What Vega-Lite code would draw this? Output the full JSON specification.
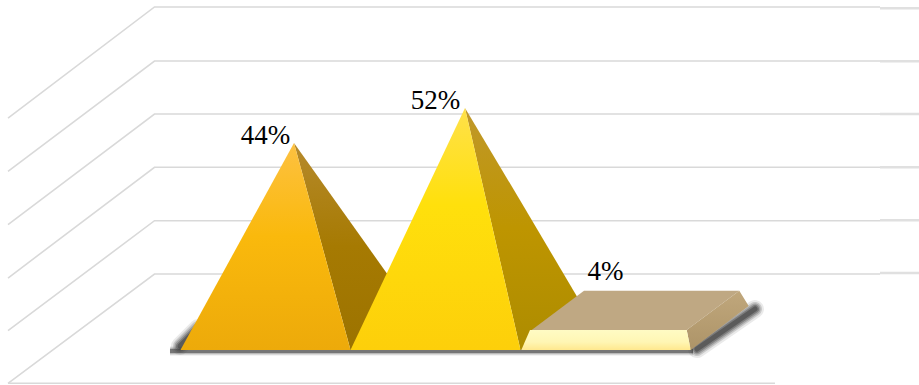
{
  "$schema": "https://vega.github.io/schema/vega-lite/v6.json",
  "width": 919,
  "height": 385,
  "padding": 0,
  "autosize": "none",
  "background": "#ffffff",
  "config": {"view": {"stroke": null}},
  "datasets": {
    "walls": [
      {"level": "l6", "x": -1.0147, "y": 49.71}, {"level": "l6", "x": -0.1529, "y": 75.09}, {"level": "l6", "x": 4.1147, "y": 75.09},
      {"level": "l5", "x": -1.0147, "y": 37.53}, {"level": "l5", "x": -0.1529, "y": 62.74}, {"level": "l5", "x": 4.1147, "y": 62.74},
      {"level": "l4", "x": -1.0147, "y": 25.33}, {"level": "l4", "x": -0.1529, "y": 50.63}, {"level": "l4", "x": 4.1147, "y": 50.63},
      {"level": "l3", "x": -1.0147, "y": 13.14}, {"level": "l3", "x": -0.1529, "y": 38.45}, {"level": "l3", "x": 4.1147, "y": 38.45},
      {"level": "l2", "x": -1.0147, "y": 1.10}, {"level": "l2", "x": -0.1529, "y": 26.24}, {"level": "l2", "x": 4.1147, "y": 26.24},
      {"level": "l1", "x": -1.0147, "y": -10.93}, {"level": "l1", "x": -0.1529, "y": 14.06}, {"level": "l1", "x": 4.1147, "y": 14.06},
      {"level": "floor", "x": -1.0147, "y": -10.93}, {"level": "floor", "x": 3.4971, "y": -10.93}
    ],
    "stubs": [
      {"level": "l6", "x": 4.1147, "y": 74.79}, {"level": "l6", "x": 4.3441, "y": 74.79},
      {"level": "l5", "x": 4.1147, "y": 62.67}, {"level": "l5", "x": 4.3441, "y": 62.67},
      {"level": "l4", "x": 4.1147, "y": 50.63}, {"level": "l4", "x": 4.3441, "y": 50.63},
      {"level": "l3", "x": 4.1147, "y": 38.45}, {"level": "l3", "x": 4.3441, "y": 38.45},
      {"level": "l2", "x": 4.1147, "y": 26.33}, {"level": "l2", "x": 4.3441, "y": 26.33},
      {"level": "l1", "x": 4.1147, "y": 14.29}, {"level": "l1", "x": 4.3441, "y": 14.29}
    ],
    "shadow": [
      {"edge": "left", "x": -0.0029, "y": -2.4}, {"edge": "left", "x": 0.1029, "y": 1.71},
      {"edge": "right", "x": 3.0382, "y": -3.09}, {"edge": "right", "x": 3.3794, "y": 6.06}
    ],
    "baseShadow": [
      {"x": -0.0618, "y": -3.54}, {"x": 3.0147, "y": -3.54}
    ],
    "faces": [
      {"face": "side1", "x": 0.6676, "y": 44, "y2": 44},
      {"face": "side1", "x": 1, "y": 25.9, "y2": -3.31},
      {"face": "side1", "x": 1.35, "y": 6.74, "y2": 6.74},
      {"face": "front1", "x": 0, "y": -3.31, "y2": -3.31},
      {"face": "front1", "x": 0.6676, "y": 44, "y2": -3.31},
      {"face": "front1", "x": 1, "y": -3.31, "y2": -3.31},
      {"face": "side2", "x": 1.6735, "y": 52, "y2": 52},
      {"face": "side2", "x": 2, "y": 30.74, "y2": -3.31},
      {"face": "side2", "x": 2.3618, "y": 6.97, "y2": 6.97},
      {"face": "front2", "x": 1, "y": -3.31, "y2": -3.31},
      {"face": "front2", "x": 1.6735, "y": 52, "y2": -3.31},
      {"face": "front2", "x": 2, "y": -3.31, "y2": -3.31},
      {"face": "slabTop", "x": 2.0659, "y": 1.26, "y2": 1.26},
      {"face": "slabTop", "x": 2.3735, "y": 10.24, "y2": 1.26},
      {"face": "slabTop", "x": 2.9776, "y": 10.24, "y2": 1.26},
      {"face": "slabTop", "x": 3.2871, "y": 10.24, "y2": 10.24},
      {"face": "slabSide", "x": 2.9776, "y": 1.26, "y2": 1.26},
      {"face": "slabSide", "x": 3.0012, "y": 1.94, "y2": -3.31},
      {"face": "slabSide", "x": 3.2871, "y": 10.24, "y2": 5.12},
      {"face": "slabSide", "x": 3.3424, "y": 6.74, "y2": 6.74},
      {"face": "slabFront", "x": 2.0047, "y": -3.31, "y2": -3.31},
      {"face": "slabFront", "x": 2.0559, "y": 1.26, "y2": -3.31},
      {"face": "slabFront", "x": 2.9776, "y": 1.26, "y2": -3.31},
      {"face": "slabFront", "x": 3.0012, "y": -3.31, "y2": -3.31}
    ],
    "labels": [
      {"label": "44%", "value": 44, "x": 0.5},
      {"label": "52%", "value": 52, "x": 1.5},
      {"label": "4%", "value": 4, "x": 2.5}
    ]
  },
  "data": {"name": "faces"},
  "encoding": {
    "x": {"field": "x", "type": "quantitative", "axis": null, "scale": {"domain": [-1.06176, 4.34412], "nice": false, "zero": false}},
    "y": {"field": "y", "type": "quantitative", "axis": null, "scale": {"domain": [-11.314, 76.686], "nice": false, "zero": false}}
  },
  "layer": [
    {
      "data": {"name": "walls"},
      "mark": {"type": "line", "color": "#d9d9d9", "strokeWidth": 1.6},
      "encoding": {"detail": {"field": "level"}}
    },
    {
      "data": {"name": "stubs"},
      "mark": {"type": "line", "color": "#e0e0e0", "strokeWidth": 2.5},
      "encoding": {"detail": {"field": "level"}}
    },
    {
      "data": {"name": "shadow"},
      "mark": {"type": "line", "color": "#333333", "opacity": 0.1, "strokeWidth": 18, "strokeCap": "round", "strokeJoin": "round"},
      "encoding": {"detail": {"field": "edge"}}
    },
    {
      "data": {"name": "shadow"},
      "mark": {"type": "line", "color": "#333333", "opacity": 0.18, "strokeWidth": 14, "strokeCap": "round", "strokeJoin": "round"},
      "encoding": {"detail": {"field": "edge"}}
    },
    {
      "data": {"name": "shadow"},
      "mark": {"type": "line", "color": "#333333", "opacity": 0.25, "strokeWidth": 11, "strokeCap": "round", "strokeJoin": "round"},
      "encoding": {"detail": {"field": "edge"}}
    },
    {
      "data": {"name": "shadow"},
      "mark": {"type": "line", "color": "#333333", "opacity": 0.35, "strokeWidth": 8, "strokeCap": "round", "strokeJoin": "round"},
      "encoding": {"detail": {"field": "edge"}}
    },
    {
      "data": {"name": "shadow"},
      "mark": {"type": "line", "color": "#333333", "opacity": 0.45, "strokeWidth": 5, "strokeCap": "round", "strokeJoin": "round"},
      "encoding": {"detail": {"field": "edge"}}
    },
    {
      "data": {"name": "baseShadow"},
      "mark": {"type": "line", "color": "#333333", "opacity": 0.12, "strokeWidth": 9}
    },
    {
      "data": {"name": "baseShadow"},
      "mark": {"type": "line", "color": "#333333", "opacity": 0.25, "strokeWidth": 6.5}
    },
    {
      "data": {"name": "baseShadow"},
      "mark": {"type": "line", "color": "#333333", "opacity": 0.5, "strokeWidth": 4}
    },
    {
      "transform": [{"filter": "datum.face === 'side1'"}],
      "mark": {"type": "area", "color": {"gradient": "linear", "x1": 0, "y1": 0, "x2": 0, "y2": 1, "stops": [{"offset": 0, "color": "#b68a2c"}, {"offset": 0.5, "color": "#a67a02"}, {"offset": 1, "color": "#9c7300"}]}},
      "encoding": {"y2": {"field": "y2"}}
    },
    {
      "transform": [{"filter": "datum.face === 'front1'"}],
      "mark": {"type": "area", "color": {"gradient": "linear", "x1": 0, "y1": 0, "x2": 0, "y2": 1, "stops": [{"offset": 0, "color": "#fdc141"}, {"offset": 0.45, "color": "#fab90c"}, {"offset": 1, "color": "#edaa0a"}]}},
      "encoding": {"y2": {"field": "y2"}}
    },
    {
      "transform": [{"filter": "datum.face === 'side2'"}],
      "mark": {"type": "area", "color": {"gradient": "linear", "x1": 0, "y1": 0, "x2": 0, "y2": 1, "stops": [{"offset": 0, "color": "#c0982a"}, {"offset": 0.5, "color": "#be9500"}, {"offset": 1, "color": "#ad8c00"}]}},
      "encoding": {"y2": {"field": "y2"}}
    },
    {
      "transform": [{"filter": "datum.face === 'front2'"}],
      "mark": {"type": "area", "color": {"gradient": "linear", "x1": 0, "y1": 0, "x2": 0, "y2": 1, "stops": [{"offset": 0, "color": "#ffe14a"}, {"offset": 0.4, "color": "#ffe00c"}, {"offset": 1, "color": "#fdcf0a"}]}},
      "encoding": {"y2": {"field": "y2"}}
    },
    {
      "transform": [{"filter": "datum.face === 'slabTop'"}],
      "mark": {"type": "area", "color": "#bfa883"},
      "encoding": {"y2": {"field": "y2"}}
    },
    {
      "transform": [{"filter": "datum.face === 'slabSide'"}],
      "mark": {"type": "area", "color": {"gradient": "linear", "x1": 0, "y1": 0, "x2": 0, "y2": 1, "stops": [{"offset": 0, "color": "#c0a77c"}, {"offset": 1, "color": "#ad9468"}]}},
      "encoding": {"y2": {"field": "y2"}}
    },
    {
      "transform": [{"filter": "datum.face === 'slabFront'"}],
      "mark": {"type": "area", "color": {"gradient": "linear", "x1": 0, "y1": 0, "x2": 0, "y2": 1, "stops": [{"offset": 0, "color": "#fffbc4"}, {"offset": 0.6, "color": "#fff6b4"}, {"offset": 1, "color": "#ffe88e"}]}},
      "encoding": {"y2": {"field": "y2"}}
    },
    {
      "data": {"name": "labels"},
      "transform": [{"filter": "datum.value > 10"}],
      "mark": {"type": "text", "font": "Liberation Serif", "fontSize": 27, "color": "#000000", "align": "center", "baseline": "middle", "dy": -7},
      "encoding": {"y": {"field": "value", "type": "quantitative"}, "text": {"field": "label"}}
    },
    {
      "data": {"name": "labels"},
      "transform": [{"filter": "datum.value <= 10"}],
      "mark": {"type": "text", "font": "Liberation Serif", "fontSize": 27, "color": "#000000", "align": "center", "baseline": "middle", "dy": -46},
      "encoding": {"y": {"field": "value", "type": "quantitative"}, "text": {"field": "label"}}
    }
  ]
}
